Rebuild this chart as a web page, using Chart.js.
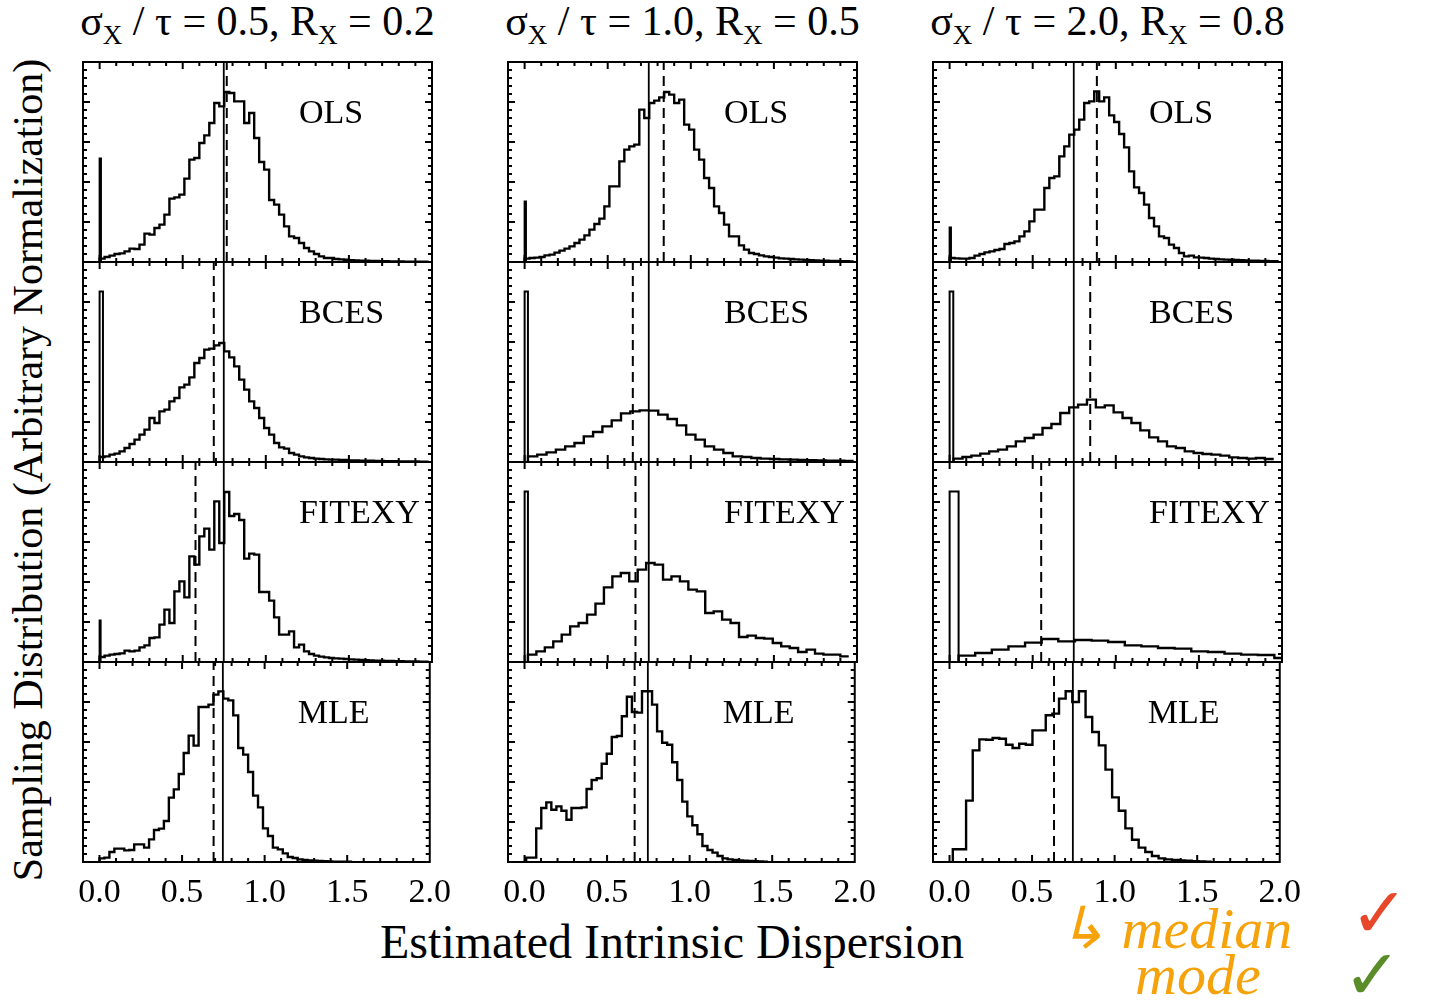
<!DOCTYPE html>
<html>
<head>
<meta charset="utf-8">
<title>Sampling distributions of the intrinsic dispersion</title>
<script src="https://cdn.jsdelivr.net/npm/chart.js@4.4.0/dist/chart.umd.min.js"></script>
<style>
  body { margin: 0; background: #fff; }
  #page { position: relative; width: 1431px; height: 1004px; overflow: hidden; font-family: "Liberation Serif", "Times New Roman", serif; color: #000; }
  #page canvas { position: absolute; }
  .coltitle { position: absolute; top: 0; font-size: 42px; line-height: 42px; white-space: nowrap; transform: translateX(-50%); }
  .coltitle sub { font-size: 27px; vertical-align: baseline; position: relative; top: 9px; }
  #ylab { position: absolute; left: 28px; top: 470px; width: 0; height: 0; }
  #ylab span { position: absolute; white-space: nowrap; font-size: 42px; line-height: 42px; transform: translate(-50%, -50%) rotate(-90deg); }
  #xlab { position: absolute; left: 672px; top: 918px; font-size: 48px; line-height: 48px; white-space: nowrap; transform: translateX(-50%); }
  .note { position: absolute; white-space: nowrap; font-style: italic; color: #f6a20a; font-size: 58px; line-height: 58px; }
  .check { position: absolute; font-family: "DejaVu Sans", sans-serif; font-size: 70px; line-height: 70px; }
</style>
</head>
<body>
<div id="page">
  <div id="ylab"><span>Sampling Distribution (Arbitrary Normalization)</span></div>
  <div id="xlab">Estimated Intrinsic Dispersion</div>
  <div class="note" style="left:1058px; top:900px;">↳ median</div>
  <div class="note" style="left:1135px; top:946px;">mode</div>
  <div class="check" style="left:1350px; top:878px; color:#e8472a;">✓</div>
  <div class="check" style="left:1343px; top:940px; color:#5b8c2a;">✓</div>
</div>
<script>
Chart.defaults.font.family = '"Liberation Serif", "Times New Roman", serif';

const xTickValues = [0.0, 0.5, 1.0, 1.5, 2.0];
const methods = ['OLS', 'BCES', 'FITEXY', 'MLE'];
const sigmaRatios = ['0.5', '1.0', '2.0'];
const reliabilities = ['0.2', '0.5', '0.8'];
const trueDispersion = 0.747;

// dashed lines, one per row (OLS, BCES, FITEXY, MLE)
const medians1 = [0.765, 0.687, 0.577, 0.691];
const medians2 = [0.837, 0.651, 0.667, 0.667];
const medians3 = [0.886, 0.846, 0.551, 0.633];

// pile-up of estimates at zero: [width, height]
const zeroPile1 = [[0.008, 0.517], [0.02, 0.853], [0.006, 0.207], null];
const zeroPile2 = [[0.008, 0.303], [0.02, 0.853], [0.02, 0.853], null];
const zeroPile3 = [[0.008, 0.173], [0.022, 0.853], [0.054, 0.853], null];

// histogram binning: [first edge, bin width]
const bins1 = [[0, 0.03], [0, 0.03], [0, 0.03], [0, 0.03]];
const bins2 = [[0, 0.03], [0.02, 0.056], [0.02, 0.0508], [0.01, 0.0305]];
const bins3 = [[0, 0.03], [0.024, 0.0535], [0.054, 0.1], [0.02, 0.0402]];

// sigma_x / tau = 0.5
const ols1 = [0.017,0.025,0.032,0.04,0.043,0.053,0.067,0.065,0.087,0.142,0.137,0.17,0.187,0.237,0.317,0.323,0.337,0.417,0.512,0.52,0.595,0.633,0.695,0.795,0.778,0.85,0.845,0.803,0.803,0.695,0.745,0.62,0.5,0.462,0.31,0.287,0.237,0.178,0.128,0.12,0.095,0.07,0.053,0.04,0.028,0.02,0.02,0.015,0.013,0.011,0.009,0.008,0.007,0.006,0.005,0.005,0.004,0.004,0.003,0.003,0.003,0.002,0.002,0.002,0.002,0.002];
const bces1 = [0.025,0.028,0.037,0.042,0.053,0.07,0.09,0.112,0.137,0.162,0.22,0.195,0.253,0.262,0.303,0.32,0.373,0.387,0.423,0.495,0.52,0.562,0.567,0.583,0.595,0.553,0.523,0.478,0.412,0.362,0.303,0.27,0.22,0.17,0.137,0.095,0.073,0.067,0.045,0.037,0.028,0.023,0.02,0.017,0.015,0.013,0.012,0.012,0.01,0.01,0.008,0.008,0.007,0.006,0.006,0.005,0.005,0.004,0.004,0.004,0.003,0.003,0.003,0.003,0.002,0.002];
const fitexy1 = [0.025,0.032,0.037,0.04,0.043,0.057,0.053,0.057,0.073,0.083,0.12,0.123,0.187,0.262,0.195,0.353,0.403,0.323,0.528,0.487,0.628,0.667,0.562,0.803,0.595,0.85,0.73,0.74,0.71,0.517,0.542,0.537,0.35,0.35,0.307,0.223,0.137,0.137,0.153,0.073,0.087,0.053,0.04,0.032,0.027,0.023,0.02,0.018,0.017,0.015,0.013,0.012,0.01,0.009,0.008,0.007,0.006,0.005,0.005,0.004,0.004,0.003,0.003,0.003,0.002,0.002];
const mle1 = [0.018,0.022,0.05,0.067,0.067,0.058,0.06,0.088,0.088,0.072,0.113,0.16,0.167,0.205,0.322,0.363,0.44,0.545,0.632,0.582,0.775,0.775,0.787,0.837,0.853,0.817,0.808,0.733,0.57,0.537,0.45,0.332,0.273,0.168,0.13,0.072,0.063,0.043,0.025,0.02,0.013,0.01,0.008,0.006,0.005,0.004,0.003,0.002,0.002,0.001,0.001];

// sigma_x / tau = 1.0
const ols2 = [0.017,0.02,0.022,0.025,0.033,0.037,0.047,0.057,0.067,0.078,0.095,0.112,0.133,0.162,0.19,0.217,0.278,0.378,0.378,0.503,0.562,0.578,0.587,0.762,0.72,0.795,0.807,0.823,0.85,0.837,0.795,0.812,0.687,0.662,0.562,0.512,0.42,0.37,0.278,0.245,0.187,0.128,0.128,0.083,0.062,0.045,0.04,0.033,0.028,0.025,0.022,0.018,0.017,0.015,0.013,0.012,0.01,0.009,0.008,0.007,0.006,0.005,0.005,0.004,0.004,0.003];
const bces2 = [0.028,0.037,0.048,0.062,0.078,0.095,0.128,0.15,0.178,0.208,0.243,0.253,0.258,0.257,0.237,0.215,0.183,0.137,0.112,0.078,0.062,0.045,0.028,0.025,0.02,0.017,0.015,0.013,0.012,0.01,0.009,0.008,0.007,0.006,0.005];
const fitexy2 = [0.037,0.053,0.073,0.103,0.137,0.178,0.195,0.237,0.292,0.373,0.428,0.445,0.403,0.462,0.495,0.487,0.412,0.428,0.403,0.362,0.353,0.245,0.253,0.212,0.195,0.125,0.132,0.12,0.117,0.095,0.078,0.07,0.05,0.062,0.042,0.037,0.037,0.028];
const mle2 = [0.022,0.022,0.168,0.27,0.298,0.261,0.278,0.256,0.211,0.27,0.27,0.273,0.365,0.41,0.419,0.491,0.541,0.625,0.63,0.729,0.826,0.75,0.747,0.854,0.854,0.787,0.653,0.596,0.586,0.499,0.41,0.302,0.228,0.184,0.139,0.08,0.06,0.047,0.03,0.018,0.013,0.01,0.008,0.006,0.005,0.004,0.003,0.002];

// sigma_x / tau = 2.0
const ols3 = [0.02,0.018,0.017,0.017,0.02,0.032,0.04,0.048,0.053,0.06,0.065,0.09,0.095,0.103,0.128,0.153,0.203,0.262,0.262,0.37,0.42,0.428,0.528,0.578,0.637,0.662,0.712,0.795,0.803,0.853,0.803,0.823,0.733,0.7,0.64,0.573,0.453,0.373,0.345,0.287,0.22,0.178,0.128,0.12,0.087,0.07,0.045,0.028,0.032,0.023,0.022,0.02,0.017,0.015,0.013,0.012,0.011,0.01,0.009,0.008,0.007,0.006,0.005,0.005,0.004,0.004];
const bces3 = [0.017,0.025,0.032,0.042,0.053,0.062,0.078,0.103,0.12,0.137,0.17,0.19,0.245,0.273,0.287,0.312,0.273,0.283,0.248,0.22,0.195,0.158,0.123,0.103,0.078,0.07,0.053,0.045,0.04,0.037,0.032,0.023,0.02,0.017,0.02,0.015];
const fitexy3 = [0.032,0.045,0.062,0.078,0.097,0.115,0.103,0.11,0.107,0.1,0.083,0.078,0.07,0.067,0.053,0.05,0.042,0.037,0.035,0.02];
const mle3 = [0.064,0.064,0.307,0.558,0.613,0.611,0.62,0.616,0.586,0.57,0.591,0.586,0.658,0.658,0.734,0.742,0.817,0.854,0.8,0.854,0.725,0.65,0.583,0.462,0.323,0.256,0.168,0.111,0.072,0.05,0.03,0.018,0.013,0.01,0.008,0.006,0.004,0.003,0.002];

const columns = [
  { medians: medians1, piles: zeroPile1, bins: bins1, hists: [ols1, bces1, fitexy1, mle1] },
  { medians: medians2, piles: zeroPile2, bins: bins2, hists: [ols2, bces2, fitexy2, mle2] },
  { medians: medians3, piles: zeroPile3, bins: bins3, hists: [ols3, bces3, fitexy3, mle3] },
];

// page geometry
const panelLeft = [83, 508, 933];
const panelTop = [62, 262, 462, 662];
const panelW = 349, panelH = 200;
const padX = 30, padY = 6, axisH = 50;

// box with inward ticks on all four sides, plus the method name
const framePlugin = {
  id: 'frame',
  afterDatasetsDraw(chart, args, opts) {
    const { ctx, chartArea: a, scales: { x, y } } = chart;
    ctx.save();
    ctx.strokeStyle = '#000';
    ctx.lineWidth = 2;
    ctx.beginPath();
    for (let i = 0; i < 20; i++) {
      const px = x.getPixelForValue(i / 10);
      const len = i % 5 === 0 ? 7 : 4;
      ctx.moveTo(px, a.bottom); ctx.lineTo(px, a.bottom - len);
      ctx.moveTo(px, a.top); ctx.lineTo(px, a.top + len);
    }
    for (let i = 1; i < 25; i++) {
      const py = y.getPixelForValue(i * 0.04);
      const len = i % 5 === 0 ? 7 : 4;
      ctx.moveTo(a.left, py); ctx.lineTo(a.left + len, py);
      ctx.moveTo(a.right, py); ctx.lineTo(a.right - len, py);
    }
    ctx.stroke();
    ctx.strokeRect(a.left, a.top, a.right - a.left, a.bottom - a.top);
    ctx.fillStyle = '#000';
    ctx.font = '34px "Liberation Serif"';
    ctx.textBaseline = 'alphabetic';
    ctx.fillText(opts.label, x.getPixelForValue(1.2), y.getPixelForValue(0.695));
    ctx.restore();
  }
};

function stepPoints(start, width, counts) {
  const pts = [{ x: start, y: 0 }];
  counts.forEach((c, i) => pts.push({ x: start + i * width, y: c }));
  pts.push({ x: start + counts.length * width, y: counts[counts.length - 1] });
  return pts;
}

const page = document.getElementById('page');

columns.forEach((col, c) => {
  const title = document.createElement('div');
  title.className = 'coltitle';
  title.style.left = (panelLeft[c] + panelW / 2) + 'px';
  title.innerHTML = 'σ<sub>X</sub> / τ = ' + sigmaRatios[c] + ', R<sub>X</sub> = ' + reliabilities[c];
  page.appendChild(title);

  methods.forEach((m, r) => {
    const bottomRow = r === methods.length - 1;
    const canvas = document.createElement('canvas');
    canvas.width = panelW + 2 * padX;
    canvas.height = panelH + 2 * padY + (bottomRow ? axisH : 0);
    canvas.style.left = (panelLeft[c] - padX) + 'px';
    canvas.style.top = (panelTop[r] - padY) + 'px';
    page.appendChild(canvas);

    const [start, width] = col.bins[r];
    const datasets = [
      { data: stepPoints(start, width, col.hists[r]), stepped: true, borderWidth: 2.4 },
      { data: [{ x: trueDispersion, y: 0 }, { x: trueDispersion, y: 1 }], borderWidth: 1.8 },
      { data: [{ x: col.medians[r], y: 0 }, { x: col.medians[r], y: 1 }], borderWidth: 2, borderDash: [10, 6] },
    ];
    const pile = col.piles[r];
    if (pile) {
      datasets.push({
        data: [{ x: 0, y: 0 }, { x: 0, y: pile[1] }, { x: pile[0], y: pile[1] }, { x: pile[0], y: 0 }],
        borderWidth: 2
      });
    }
    datasets.forEach(d => {
      d.borderColor = '#000';
      d.pointRadius = 0;
      d.fill = false;
      d.tension = 0;
    });

    const xScale = {
      type: 'linear', min: -0.1, max: 2.0,
      display: bottomRow,
      grid: { display: false, drawTicks: false },
      border: { display: false },
      afterBuildTicks: s => { s.ticks = xTickValues.map(v => ({ value: v })); },
      ticks: {
        autoSkip: false, maxRotation: 0, padding: 11, color: '#000',
        font: { size: 34 },
        callback: v => Number(v).toFixed(1)
      }
    };
    if (bottomRow) xScale.afterFit = s => { s.height = axisH; };

    new Chart(canvas, {
      type: 'line',
      data: { datasets },
      options: {
        responsive: false,
        animation: false,
        devicePixelRatio: 1,
        events: [],
        layout: { padding: { left: padX, right: padX, top: padY, bottom: padY } },
        plugins: { legend: { display: false }, tooltip: { enabled: false }, frame: { label: m } },
        scales: {
          x: xScale,
          y: { type: 'linear', min: 0, max: 1, display: false }
        }
      },
      plugins: [framePlugin]
    });
  });
});
</script>
</body>
</html>
